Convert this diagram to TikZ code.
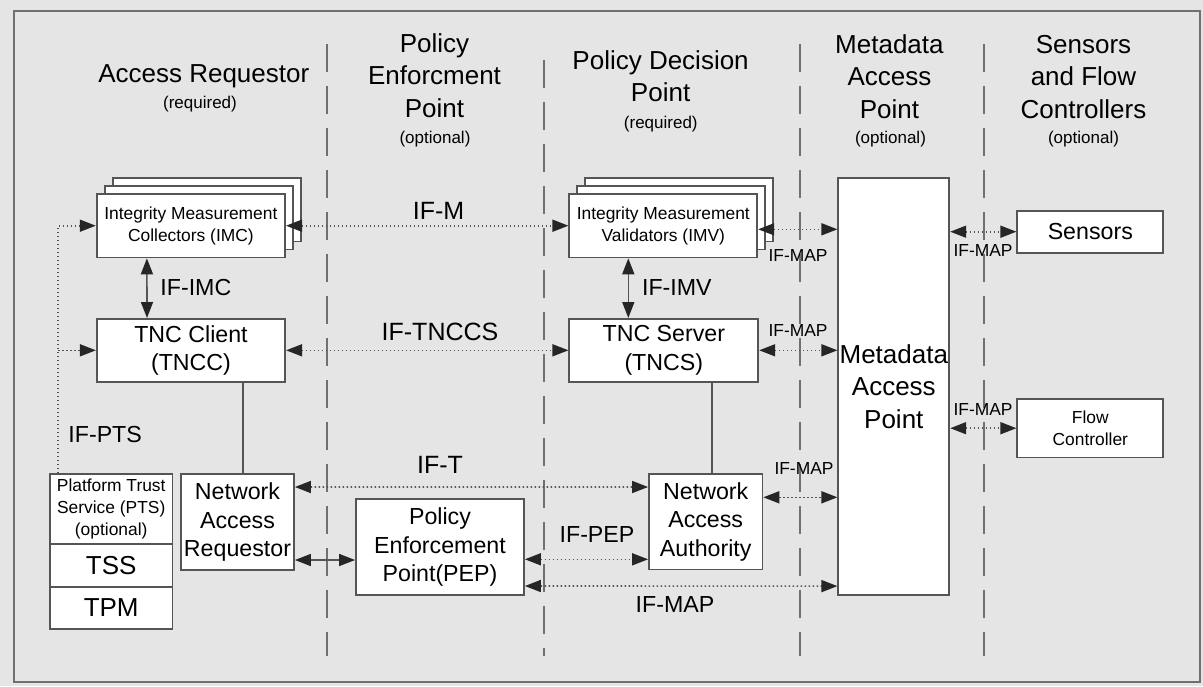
\documentclass[tikz,border=0pt]{standalone}
\usepackage{fontspec}
\setmainfont{Liberation Sans}
\usetikzlibrary{arrows.meta,shadows}

\definecolor{pagegray}{RGB}{229,229,229}
\definecolor{framegray}{RGB}{112,112,112}
\definecolor{linegray}{RGB}{85,85,85}

\newcommand\fhead{\fontsize{13}{16.25}\selectfont}
\newcommand\fmid{\fontsize{11.6}{14.2}\selectfont}
\newcommand\fbig{\fontsize{12.5}{15}\selectfont}
\newcommand\fsmall{\fontsize{8.7}{10.9}\selectfont}
\newcommand\fsub{\fontsize{8.5}{10}\selectfont}

\tikzset{
  box/.style={draw=linegray,line width=0.9pt,fill=white,inner sep=0pt,align=center},
  stack/.style={box,
    copy shadow={shadow xshift=8pt,shadow yshift=8pt,draw=linegray,fill=white,line width=0.9pt},
    copy shadow={shadow xshift=4pt,shadow yshift=4pt,draw=linegray,fill=white,line width=0.9pt}},
  head/.style={anchor=base,font=\fhead,align=center,inner sep=0pt},
  sub/.style={anchor=base,font=\fsub,inner sep=0pt},
  iflarge/.style={font=\fbig,inner sep=0pt},
  ifmid/.style={font=\fmid,inner sep=0pt},
  ifsmall/.style={font=\fsmall,inner sep=0pt},
  lane/.style={draw=framegray,line width=0.9pt,dash pattern=on 14pt off 7pt},
  dots/.style={draw=linegray,line width=0.8pt,dash pattern=on 0.8pt off 1.2pt},
  wire/.style={draw=linegray,line width=0.8pt}
}

\begin{document}
\begin{tikzpicture}[x=0.5pt,y=-0.5pt,>={Triangle[length=8pt,width=6pt,color=black!85]}]
% page and frame
\fill[pagegray](0,0)rectangle(1203,686);
\useasboundingbox(0,0)rectangle(1203,686);
\draw[framegray,line width=1.1pt](14,11)rectangle(1200,682);
% lane borders
\foreach \lx/\ly in {327/44,544/60,800/44,984/44}
  \draw[lane](\lx,\ly)--(\lx,656);

% column heads (base = last line)
\node[head](arhead)at(203.8,82.3){Access Requestor};
\node[sub](arsub)at(200,108){(required)};
\node[head](pephead)at(434.5,117){Policy\\Enforcment\\Point};
\node[sub](pepsub)at(435,143){(optional)};
\node[head](pdphead)at(660.6,101.7){Policy Decision\\Point};
\node[sub](pdpsub)at(660.8,128){(required)};
\node[head](maphead)at(889.4,118.3){Metadata\\Access\\Point};
\node[sub](mapsub)at(890.5,143){(optional)};
\node[head](sfchead)at(1083.5,118.3){Sensors\\and Flow\\Controllers};
\node[sub](sfcsub)at(1083.5,143){(optional)};

% boxes
\node[stack,font=\fsmall,minimum width=94.2pt,minimum height=31.7pt](imc)at(190.9,225.7){Integrity Measurement\\Collectors (IMC)};
\node[stack,font=\fsmall,minimum width=94pt,minimum height=31.7pt](imv)at(663.3,225.7){Integrity Measurement\\Validators (IMV)};
\node[box,font=\fmid,minimum width=94.2pt,minimum height=31.4pt](tncc)at(191,350.3){TNC Client\\(TNCC)};
\node[box,font=\fmid,minimum width=94.5pt,minimum height=31.4pt](tncs)at(663.8,350.3){TNC Server\\(TNCS)};
\node[box,font=\fhead,minimum width=55.5pt,minimum height=208.3pt](map)at(893.8,386.3){Metadata\\Access\\Point};
\node[box,font=\fmid,minimum width=73pt,minimum height=21pt](sens)at(1090.3,231.7){Sensors};
\node[box,font=\fsmall,minimum width=73pt,minimum height=29.2pt](fc)at(1090.3,428.2){Flow\\Controller};
\node[box,font=\fsmall,minimum width=61.2pt,minimum height=35.2pt](pts)at(111.2,509.2){Platform Trust\\Service (PTS)\\(optional)};
\node[box,font=\fhead,minimum width=61.2pt,minimum height=21.3pt](tss)at(111.2,565.5){TSS};
\node[box,font=\fhead,minimum width=61.2pt,minimum height=21.2pt](tpm)at(111.2,608){TPM};
\node[box,font=\fmid,minimum width=56.5pt,minimum height=48pt](nar)at(237.5,522){Network\\Access\\Requestor};
\node[box,font=\fmid,minimum width=84pt,minimum height=48pt](pep)at(440,547.3){Policy\\Enforcement\\Point(PEP)};
\node[box,font=\fmid,minimum width=56.7pt,minimum height=47.7pt](naa)at(705.7,521.7){Network\\Access\\Authority};

% interface labels
\node[iflarge](ifm)at(438.5,211){IF-M};
\node[iflarge](iftnccs)at(440,332){IF-TNCCS};
\node[iflarge](ift)at(440,465){IF-T};
\node[ifmid,anchor=west](ifimc)at(160,288){IF-IMC};
\node[ifmid,anchor=west](ifimv)at(641.7,288){IF-IMV};
\node[ifmid,anchor=west](ifpts)at(68,435){IF-PTS};
\node[ifmid](ifpep)at(597,535){IF-PEP};
\node[ifmid](ifmappep)at(675,605){IF-MAP};
\node[ifsmall](ifmapimv)at(798,256){IF-MAP};
\node[ifsmall](ifmaptncs)at(798,331){IF-MAP};
\node[ifsmall](ifmapnaa)at(804,468.5){IF-MAP};
\node[ifsmall](ifmapsens)at(983,251){IF-MAP};
\node[ifsmall](ifmapfc)at(983,409.5){IF-MAP};

% connectors
\coordinate(ptsfoot)at([xshift=-26.6pt]pts.north);
\draw[dots,->](ptsfoot)|-(imc.west);
\draw[dots,->](ptsfoot|-tncc.west)--(tncc.west);
\draw[dots,<->](imc.east)--(imv.west);
\draw[dots,<->](tncc.east)--(tncs.west);
\draw[dots,<->]([yshift=17.5pt]nar.east)--([yshift=17.35pt]naa.west);
\draw[wire,<->]([yshift=-19pt]nar.east)--([yshift=-6.35pt]pep.west);
\draw[dots,<->]([yshift=-6pt]pep.east)--([yshift=-18.8pt]naa.west);
\draw[dots,<->]([yshift=-19.35pt]pep.east)--([yshift=-99.9pt]map.west);
\draw[dots,<->]([yshift=12.2pt]naa.east)--([yshift=-55.5pt]map.west);
\draw[dots,<->]([yshift=-1.8pt]imv.east)--([yshift=78.5pt]map.west);
\draw[dots,<->](tncs.east)--(tncs.east-|map.west);
\draw[dots,<->](map.east|-sens.west)--(sens.west);
\draw[dots,<->](map.east|-fc.west)--(fc.west);
\draw[wire,<->]([xshift=-22pt]imc.south)--([xshift=-22pt]tncc.north);
\draw[wire,<->]([xshift=-17.5pt]imv.south)--([xshift=-17.75pt]tncs.north);
\draw[wire]([xshift=25.85pt]tncc.south)--([xshift=2.6pt]nar.north);
\draw[wire]([xshift=24.1pt]tncs.south)--([xshift=3.15pt]naa.north);
\end{tikzpicture}
\end{document}
